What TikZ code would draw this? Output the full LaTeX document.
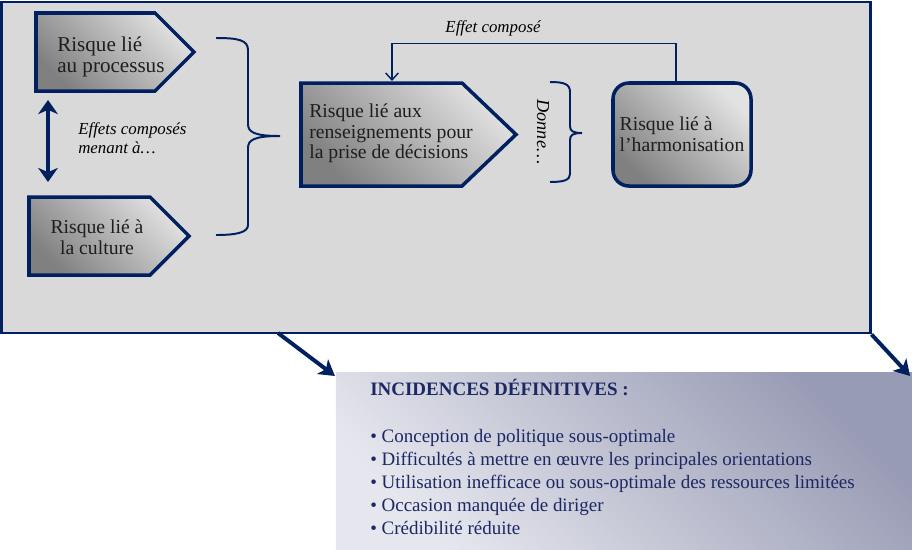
\documentclass[tikz,border=0pt]{standalone}
\usepackage{fontspec}
\setmainfont{Liberation Serif}
\usetikzlibrary{arrows.meta}

\definecolor{navy}{RGB}{0,32,96}
\definecolor{panelgray}{RGB}{217,217,217}
\definecolor{inkgray}{RGB}{30,30,30}
\definecolor{listblue}{RGB}{28,40,100}
\definecolor{shadelight}{RGB}{226,226,226}
\definecolor{shadedark}{RGB}{128,128,128}
\definecolor{impactdark}{RGB}{152,155,180}
\definecolor{impactlight}{RGB}{230,231,238}

\tikzset{
  riskshape/.style={draw=navy, line width=2.5pt, top color=shadelight, bottom color=shadedark, shading angle=-45},
  risktext/.style={inner sep=0pt, text=inkgray, font=\fontsize{14}{14.6}\selectfont},
  brace/.style={draw=navy, line width=1.4pt},
  note/.style={inner sep=0pt, text=black, font=\fontsize{12}{13.5}\selectfont\itshape},
  bigarrow/.style={draw=navy, line width=2.8pt, -{Stealth[length=11pt,width=13pt,inset=3pt]}},
  itemtext/.style={inner sep=0pt, anchor=base west, text=listblue, font=\fontsize{13.5}{16.4}\selectfont},
}

\begin{document}
\begin{tikzpicture}[x=0.025cm, y=-0.025cm]
\useasboundingbox (0,0) rectangle (912,549);

% cadre principal
\node[draw=navy, line width=2pt, fill=panelgray, minimum width=21.7cm, minimum height=8.275cm, inner sep=0pt] (frame) at (436,167.5) {};

% risques de base
\path[riskshape] (36,13) -- (155,13) -- (194,52) -- (155,91) -- (36,91) -- cycle;
\node[risktext, anchor=west, align=left, font=\fontsize{15}{14.6}\selectfont] (process) at (57,57) {Risque lié\\au processus};

\path[riskshape] (29,197) -- (150,197) -- (189,236) -- (150,275) -- (29,275) -- cycle;
\node[risktext, align=center] (culture) at (97,237) {Risque lié à\\la culture};

\coordinate (linktop) at (48,100);
\coordinate (linkbot) at (48,182);
\draw[navy, line width=3.5pt, {Stealth[length=10pt,width=14pt,inset=3pt]}-{Stealth[length=10pt,width=14pt,inset=3pt]}] (linktop) -- (linkbot);
\node[note, anchor=west, align=left] (compound) at (78,138) {Effets composés\\menant à…};

% accolade gauche
\draw[brace] (216,38) .. controls (238,38) and (248,40) .. (248,50) -- (248,124) .. controls (248,132) and (254,136) .. (280,136)
  .. controls (254,136) and (248,140) .. (248,148) -- (248,225) .. controls (248,232) and (238,235) .. (216,235);

% risque central
\path[riskshape] (301,83) -- (462,83) -- (516,134.5) -- (462,186) -- (301,186) -- cycle;
\node[risktext, anchor=west, align=left] (info) at (309,133.5) {Risque lié aux\\renseignements pour\\la prise de décisions};

\node[note, font=\fontsize{13}{14}\selectfont\itshape, rotate=-90] (gives) at (543,132) {Donne…};

% accolade droite
\draw[brace] (550,82) .. controls (564,82) and (570,84) .. (570,92) -- (570,126) .. controls (570,131) and (573,133) .. (582,133)
  .. controls (573,133) and (570,135) .. (570,140) -- (570,174) .. controls (570,180) and (564,182) .. (550,182);

\node[riskshape, rounded corners=0.4cm, minimum width=3.45cm, minimum height=2.575cm, inner sep=0pt, text=inkgray, font=\fontsize{14}{14.6}\selectfont, align=left] (harmon) at (682,134.5) {Risque lié à\\l’harmonisation};

% boucle de retour
\coordinate (infotop) at (392,81);
\draw[navy, line width=1pt, -{Straight Barb[length=5pt,width=9pt]}] ([xshift=-0.15cm]harmon.north) -- ++(0,-38) -| (infotop);
\node[note] (feedback) at (493,28) {Effet composé};

% incidences
\node[top color=impactdark, bottom color=impactlight, shading angle=-45, minimum width=14.4cm, minimum height=4.4cm, inner sep=0pt, outer sep=0pt] (impacts) at (624,461) {};
\coordinate (leftfoot) at (278,333);
\draw[bigarrow] (leftfoot) -- ([shift={(-1,3)}]impacts.north west);
\draw[bigarrow] (frame.south east) -- ([shift={(-2,3)}]impacts.north east);

\node[itemtext, font=\fontsize{13.5}{16.4}\selectfont\bfseries] (impacttitle) at (370,395) {INCIDENCES DÉFINITIVES :};
\foreach \txt [count=\i] in {Conception de politique sous-optimale, Difficultés à mettre en œuvre les principales orientations, Utilisation inefficace ou sous-optimale des ressources limitées, Occasion manquée de diriger, Crédibilité réduite}
  \node[itemtext] (item\i) at (370,{442+23*(\i-1)}) {\textbullet\ \txt};
\end{tikzpicture}
\end{document}
